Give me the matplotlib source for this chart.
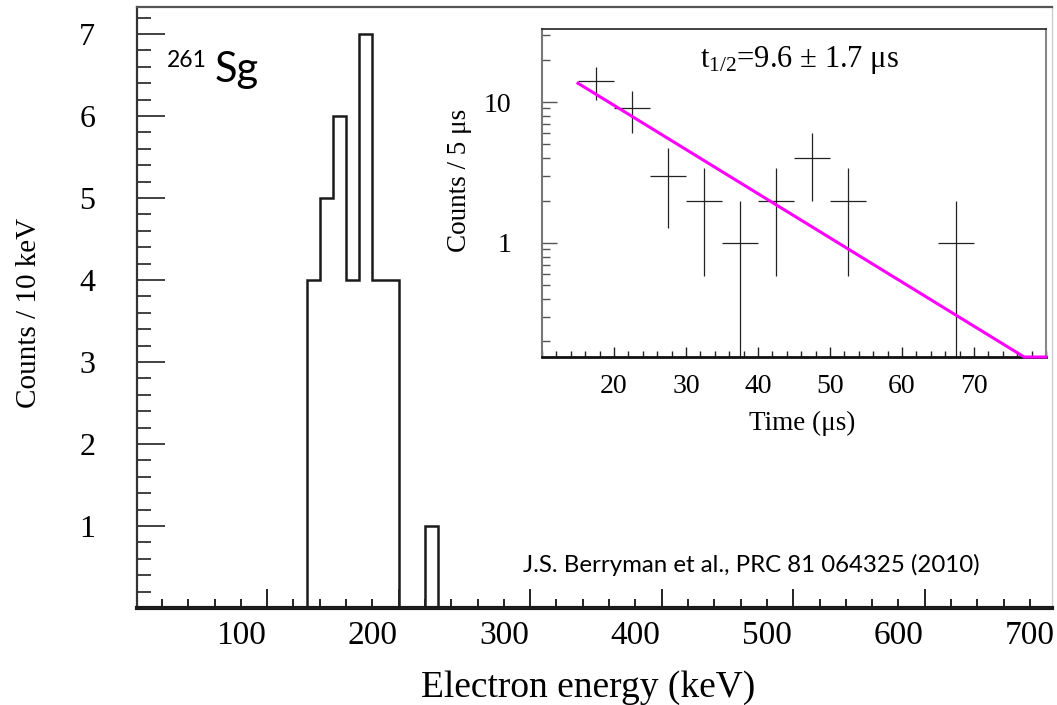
import numpy as np
import matplotlib
matplotlib.use("Agg")
import matplotlib.pyplot as plt
from matplotlib.ticker import MultipleLocator, LogLocator, NullFormatter

plt.rcParams['font.family'] = ['Liberation Serif', 'DejaVu Serif']
plt.rcParams['mathtext.fontset'] = 'custom'
plt.rcParams['mathtext.rm'] = 'Liberation Serif'
plt.rcParams['mathtext.it'] = 'Liberation Serif:italic'

# ---- main histogram data (electron energy, 10 keV bins) ----
energy_edges = [150, 160, 170, 180, 190, 200, 210, 220, 230, 240, 250]
energy_counts = [4, 5, 6, 4, 7, 4, 4, 0, 0, 1]
energy_tick_labels = [100, 200, 300, 400, 500, 600, 700]
count_ticks = [1, 2, 3, 4, 5, 6, 7]

# ---- inset decay-time data (5 us bins) ----
time_centers = [17.5, 22.5, 27.5, 32.5, 37.5, 42.5, 47.5, 52.5, 67.5]
time_counts = [14, 9, 3, 2, 1, 2, 4, 2, 1]
time_ticks = [20, 30, 40, 50, 60, 70]
fit_n0 = 13.6       # fit value at t = 15 us
fit_t0 = 15.0
fit_thalf = 9.6     # us
fit_tmax = 80.0

fig = plt.figure(figsize=(10.57, 7.05), dpi=100)

# ---------------- main axes ----------------
ax = fig.add_axes([137/1057, 1-608/705, (1052-137)/1057, (608-7)/705])
ax.stairs(energy_counts, energy_edges, color='#1a1a1a', lw=1.8, baseline=0)
ax.set_xlim(21, 716.8)
ax.set_ylim(0, 7.33)

ax.xaxis.set_major_locator(MultipleLocator(100, offset=20))
ax.xaxis.set_minor_locator(MultipleLocator(20))
ax.tick_params(axis='x', which='major', direction='in', length=13.5, width=1.4,
               labelbottom=False, color='#222')
ax.tick_params(axis='x', which='minor', direction='in', length=6.5, width=1.4, color='#222')

ax.yaxis.set_major_locator(MultipleLocator(1))
ax.yaxis.set_minor_locator(MultipleLocator(0.2))
ax.set_yticks(count_ticks)
ax.tick_params(axis='y', which='major', direction='in', length=20, width=1.3,
               labelsize=23, pad=30, color='#333')
ax.tick_params(axis='y', which='minor', direction='in', length=10, width=1.3, color='#333')

ax.spines['bottom'].set_linewidth(3)
ax.spines['bottom'].set_color('#1a1a1a')
ax.spines['left'].set_linewidth(1.6)
ax.spines['left'].set_color('#333')
ax.spines['top'].set_linewidth(1.6)
ax.spines['top'].set_color('#555')
ax.spines['right'].set_linewidth(1.0)
ax.spines['right'].set_color('#cccccc')

sec = ax.secondary_xaxis('bottom')
sec.set_xticks(energy_tick_labels)
sec.tick_params(axis='x', length=0, pad=9, labelsize=24)
sec.spines['bottom'].set_visible(False)

ax.set_xlabel('Electron energy (keV)', fontsize=27)
ax.xaxis.set_label_coords(0.493, -0.103)

ax.set_ylabel('Counts / 10 keV', fontsize=21)
ax.yaxis.set_label_coords(-0.104, 0.491)

ax.text(0.033, 0.928, '261', transform=ax.transAxes, ha='left', va='top',
        fontsize=16.5, family='Lato')
ax.text(0.0852, 0.875, 'Sg', transform=ax.transAxes, ha='left', va='baseline',
        fontsize=30, family='Lato')
ax.text(0.422, 0.0715, 'J.S. Berryman et al., PRC 81 064325 (2010)',
        transform=ax.transAxes, ha='left', va='center', fontsize=17.3, family='Lato')

# ---------------- inset axes ----------------
ins = fig.add_axes([542/1057, 1-357/705, (1046-542)/1057, (357-29)/705])
ins.set_facecolor('white')
ins.set_yscale('log')
ins.set_xlim(10, 80)
ins.set_ylim(0.155, 33)

tc = np.array(time_centers, dtype=float)
cnt = np.array(time_counts, dtype=float)
err = np.sqrt(cnt)
ins.errorbar(tc, cnt, yerr=err, xerr=2.5, fmt='none', ecolor='#222', elinewidth=0.9,
             capsize=0)

t = np.linspace(fit_t0, fit_tmax, 300)
fit = fit_n0 * 2.0 ** (-(t - fit_t0) / fit_thalf)
fit = np.maximum(fit, ins.get_ylim()[0])
ins.plot(t, fit, color='#ff00ff', lw=2.2, clip_on=False, zorder=5)

ins.set_xticks(time_ticks)
ins.xaxis.set_minor_locator(MultipleLocator(2))
ins.tick_params(axis='x', which='major', direction='in', length=7.5, width=1.0,
                labelsize=20, pad=12, color='#222')
ins.tick_params(axis='x', which='minor', direction='in', length=4, width=1.0, color='#222')
ins.yaxis.set_major_locator(LogLocator(base=10, numticks=10))
ins.yaxis.set_minor_locator(LogLocator(base=10, subs=np.arange(2, 10), numticks=20))
ins.yaxis.set_minor_formatter(NullFormatter())
ins.set_yticks([1, 10])
ins.set_yticklabels(['1', '10'])
ins.tick_params(axis='y', which='major', direction='in', length=11, width=1.0,
                labelsize=20, pad=22, color='#555')
ins.tick_params(axis='y', which='minor', direction='in', length=6, width=1.0, color='#555')

ins.spines['bottom'].set_linewidth(2)
ins.spines['bottom'].set_color('#111')
ins.spines['left'].set_linewidth(1.5)
ins.spines['left'].set_color('#777')
ins.spines['right'].set_linewidth(1.5)
ins.spines['right'].set_color('#888')
ins.spines['top'].set_linewidth(1.2)
ins.spines['top'].set_color('#222')

ins.set_xlabel('Time (μs)', fontsize=19.5)
ins.xaxis.set_label_coords(0.516, -0.163)
ins.set_ylabel('Counts / 5 μs', fontsize=19.5)
ins.yaxis.set_label_coords(-0.138, 0.537)
ins.text(0.51, 0.905, 't$_{1/2}$=9.6 ± 1.7 μs', transform=ins.transAxes,
         ha='center', va='center', fontsize=22)

fig.savefig('out.png', dpi=100)
